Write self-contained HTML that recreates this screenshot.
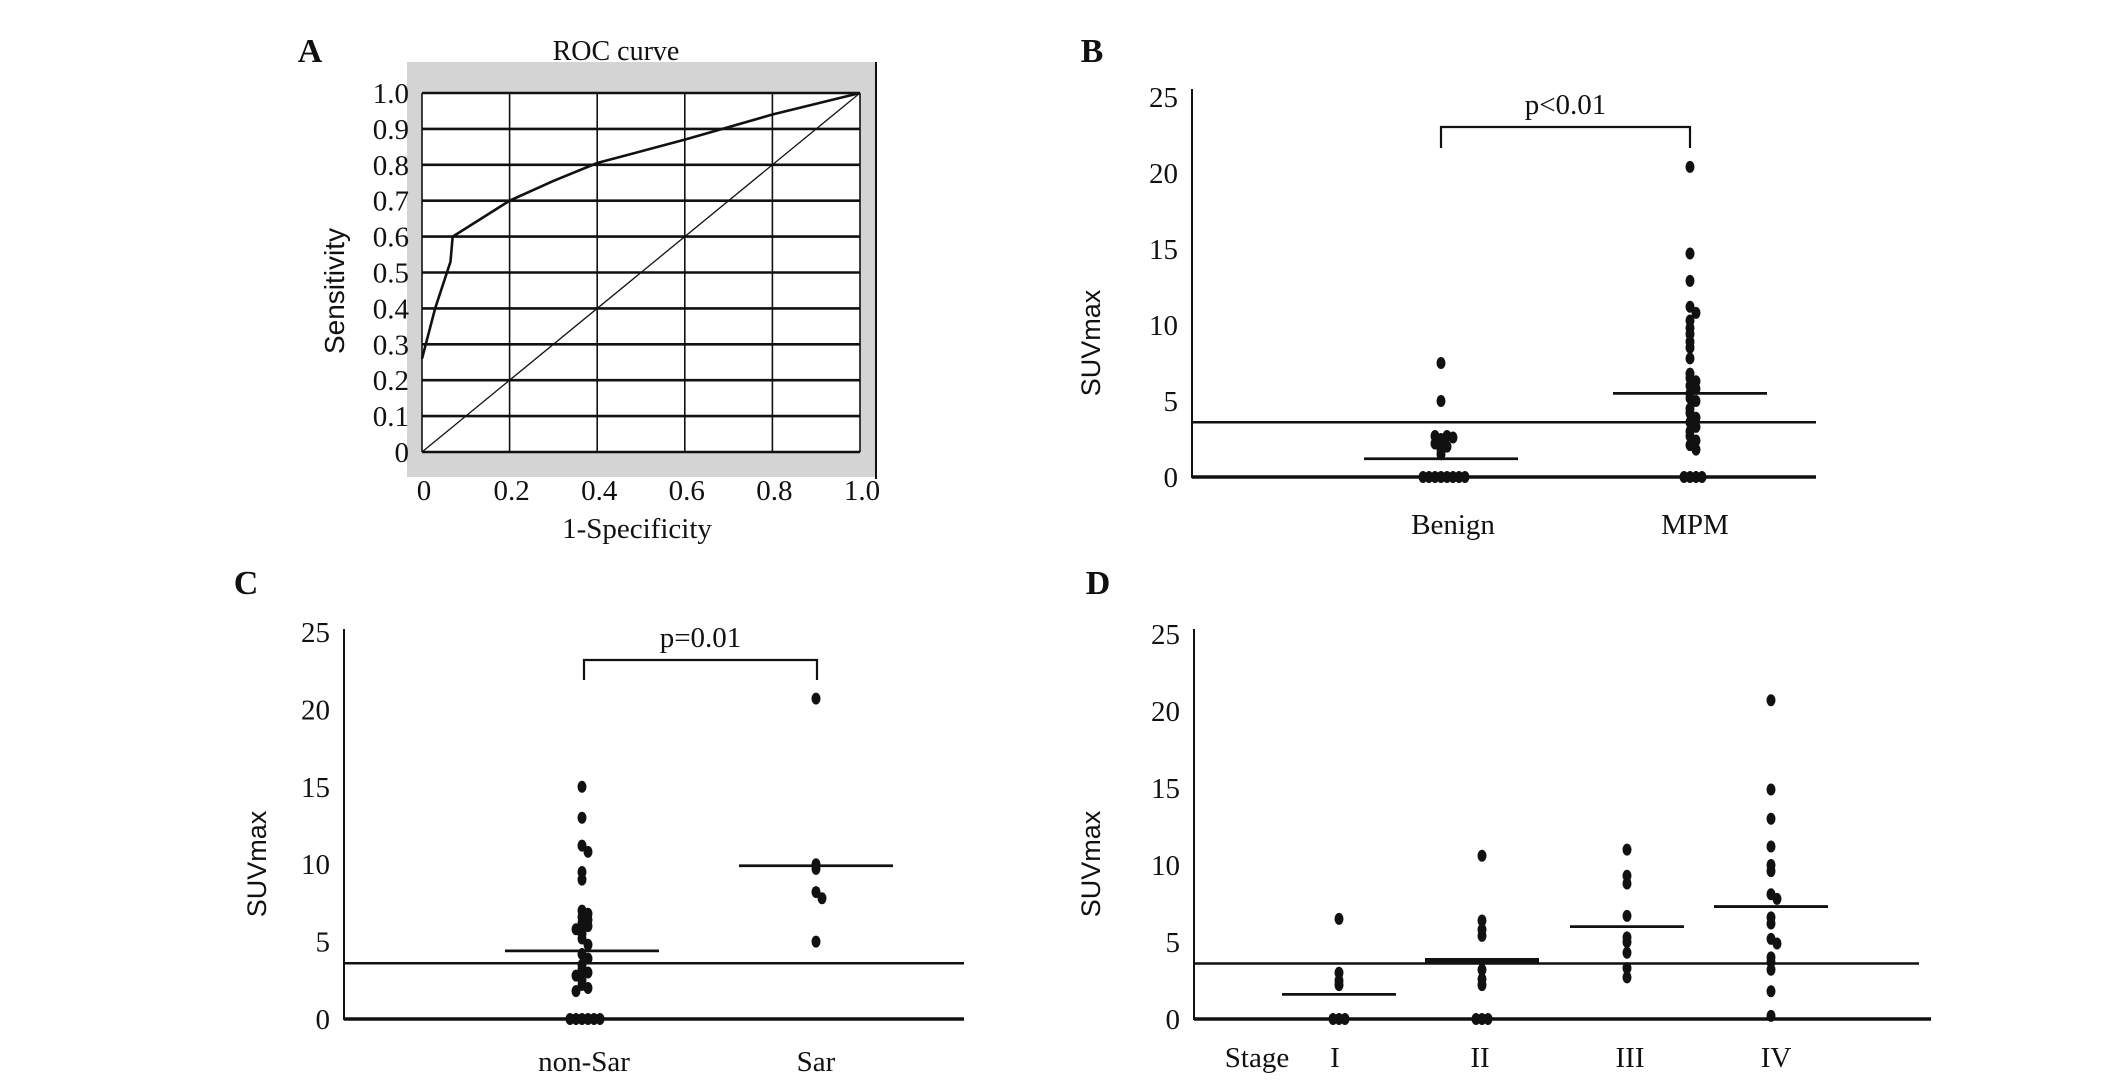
<!DOCTYPE html>
<html><head><meta charset="utf-8"><style>
html,body{margin:0;padding:0;background:#fff}
svg{display:block}
text{font-family:"Liberation Serif",serif;fill:#111}
.sans{font-family:"Liberation Sans",sans-serif}
</style></head><body>
<svg id="fig" width="2126" height="1084" viewBox="0 0 2126 1084" xmlns="http://www.w3.org/2000/svg">
<text x="310" y="62" font-size="34" font-weight="bold" text-anchor="middle">A</text>
<text x="1092" y="62" font-size="34" font-weight="bold" text-anchor="middle">B</text>
<text x="246" y="594" font-size="34" font-weight="bold" text-anchor="middle">C</text>
<text x="1098" y="594" font-size="34" font-weight="bold" text-anchor="middle">D</text>
<g id="pa"></g>
<g id="pb"></g>
<g id="pc"></g>
<g id="pd"></g>
</svg>
<script>
// ROC data
const rocFpr=[0,0.03,0.065,0.07,0.2,0.3,0.4,0.6,0.8,1];
const rocTpr=[0.26,0.4,0.53,0.6,0.7,0.755,0.805,0.87,0.94,1];
const rocTicks=["0","0.1","0.2","0.3","0.4","0.5","0.6","0.7","0.8","0.9","1.0"];
const rocXTicks=["0","0.2","0.4","0.6","0.8","1.0"];
// Panel B
const bCats=["Benign","MPM"];
const bBenign=[0,0,0,0,0,0,0,0,1.5,1.8,2.0,2.2,2.5,2.7,2.7,2.6,5,7.5];
const bMPM=[20.4,14.7,12.9,11.2,10.8,10.3,9.8,9.4,8.9,8.5,7.8,6.8,6.5,6.3,6,5.8,5.5,5.2,5,4.5,4.2,3.9,3.6,3.3,3,2.7,2.4,2.1,1.8,0,0,0,0];
const bMedians=[1.2,5.5];
// Panel C
const cCats=["non-Sar","Sar"];
const cNonSar=[15,13,11.2,10.8,9.5,9,7,6.8,6.6,6.4,6.2,6,5.8,5.5,5.2,4.8,4.2,3.9,3.5,3.2,3,2.8,2.5,2.2,2,1.8,0,0,0,0,0,0];
const cSar=[20.7,10,9.7,8.2,7.8,5];
const cMedians=[4.4,9.9];
// Panel D
const dCats=["I","II","III","IV"];
const dI=[6.5,3,2.5,2.2,0,0,0];
const dII=[10.6,6.4,5.8,5.4,3.2,2.6,2.2,0,0,0];
const dIII=[11,9.3,8.8,6.7,5.3,5,4.3,3.3,2.7];
const dIV=[20.7,14.9,13,11.2,10,9.6,8.1,7.8,6.6,6.2,5.2,4.9,4,3.7,3.2,1.8,0.2];
const dMedians=[1.6,3.8,6.0,7.3];
const suvTicks=[0,5,10,15,20,25];
const cutoff=3.6;

const NS="http://www.w3.org/2000/svg";
function mk(parent,tag,attrs,txt){const e=document.createElementNS(NS,tag);for(const k in attrs)e.setAttribute(k,attrs[k]);if(txt!==undefined)e.textContent=txt;parent.appendChild(e);return e;}

// ---- Panel A ----
(function(){
 const g=document.getElementById('pa');
 const x0=422,x1=860,y0=452,y1=93;
 const sx=v=>x0+v*(x1-x0), sy=v=>y0-v*(y0-y1);
 let e=mk(g,'rect',{x:407,y:62,width:468,height:415,fill:'#d4d4d4'});
 
 e=mk(g,'rect',{x:x0,y:y1,width:x1-x0,height:y0-y1,fill:'#fff'});
 
 e=mk(g,'line',{x1:876,y1:62,x2:876,y2:479,stroke:'#111','stroke-width':2});
 
 rocTicks.forEach((t,i)=>{const v=i/10;
  let l=mk(g,'line',{x1:x0,x2:x1,y1:sy(v),y2:sy(v),stroke:'#111','stroke-width':2.6});
  
  let tx=mk(g,'text',{x:409,y:sy(v)+10,'font-size':29,'text-anchor':'end'},t);
  
 });
 rocXTicks.forEach((t,i)=>{const v=i/5;
  let l=mk(g,'line',{x1:sx(v),x2:sx(v),y1:y1,y2:y0,stroke:'#111','stroke-width':1.6});
  
  let tx=mk(g,'text',{x:sx(v)+2,y:500,'font-size':29,'text-anchor':'middle'},t);
  
 });
 let d=mk(g,'line',{x1:sx(0),y1:sy(0),x2:sx(1),y2:sy(1),stroke:'#111','stroke-width':1.3});
 
 let p=mk(g,'polyline',{points:rocFpr.map((f,i)=>sx(f)+','+sy(rocTpr[i])).join(' '),fill:'none',stroke:'#111','stroke-width':2.6});
 
 let t=mk(g,'text',{x:616,y:60,'font-size':28,'text-anchor':'middle'},'ROC curve');
 
 t=mk(g,'text',{x:637,y:538,'font-size':29,'text-anchor':'middle'},'1-Specificity');
 
 t=mk(g,'text',{x:0,y:0,'font-size':28,'text-anchor':'middle','class':'sans',transform:'translate(344,291) rotate(-90)'},'Sensitivity');
 
})();

// ---- dot plot helper ----
function dotPanel(gid,cfg){
 const g=document.getElementById(gid);
 const sy=v=>cfg.y0-v*(cfg.y0-cfg.y25)/25;
 let e=mk(g,'line',{x1:cfg.ax,y1:cfg.top,x2:cfg.ax,y2:cfg.y0+1,stroke:'#111','stroke-width':2});
 
 e=mk(g,'line',{x1:cfg.ax,y1:cfg.y0,x2:cfg.axEnd,y2:cfg.y0,stroke:'#111','stroke-width':3.5});
 
 suvTicks.forEach(t=>{
  let tx=mk(g,'text',{x:cfg.ax-14,y:sy(t)+10,'font-size':29,'text-anchor':'end'},String(t));
  
 });
 e=mk(g,'line',{x1:cfg.ax,y1:sy(cutoff),x2:cfg.cutEnd,y2:sy(cutoff),stroke:'#111','stroke-width':2.5});
 
 cfg.cats.forEach((c,i)=>{
  const cx=cfg.cx[i];
  const vals=cfg.series[i];
  const seen={};
  vals.forEach(v=>{
   const k=Math.round(v*2);seen[k]=(seen[k]||0)+1;const n=seen[k]-1;
   const off=(n===0?0:(n%2?1:-1)*Math.ceil(n/2)*6);
   let dot=mk(g,'ellipse',{cx:cx+off,cy:sy(v),rx:4.5,ry:6,fill:'#111'});
   
  });
  let m=mk(g,'line',{x1:cx-cfg.mw,x2:cx+cfg.mw,y1:sy(cfg.med[i]),y2:sy(cfg.med[i]),stroke:'#111','stroke-width':cfg.mwid?cfg.mwid[i]:2.8});
  
  let tx=mk(g,'text',{x:cfg.lx[i],y:cfg.ly,'font-size':29,'text-anchor':'middle'},c);
  
 });
 let t=mk(g,'text',{x:0,y:0,'font-size':27,'text-anchor':'middle','class':'sans',transform:'translate('+cfg.tx+','+cfg.ty+') rotate(-90)'},'SUVmax');
 
 if(cfg.br){const b=cfg.br;
  let p=mk(g,'polyline',{points:`${b.x1},${b.yb} ${b.x1},${b.yt} ${b.x2},${b.yt} ${b.x2},${b.yb}`,fill:'none',stroke:'#111','stroke-width':2.2});
  
  let pt=mk(g,'text',{x:(b.x1+b.x2)/2,y:b.yt-13,'font-size':29,'text-anchor':'middle'},b.label);
  
 }
 if(cfg.extra){let s=mk(g,'text',{x:cfg.extra.x,y:cfg.ly,'font-size':29,'text-anchor':'middle'},cfg.extra.t);
  }
}
dotPanel('pb',{ax:1192,top:89,y0:477,y25:97,axEnd:1816,cutEnd:1816,cats:bCats,cx:[1441,1690],series:[bBenign,bMPM],med:bMedians,mw:77,lx:[1453,1695],ly:534,tx:1100,ty:343,
 br:{x1:1441,x2:1690,yt:127,yb:148,label:'p<0.01'}});
dotPanel('pc',{ax:344,top:629,y0:1019,y25:632,axEnd:964,cutEnd:964,cats:cCats,cx:[582,816],series:[cNonSar,cSar],med:cMedians,mw:77,lx:[584,816],ly:1071,tx:266,ty:864,
 br:{x1:584,x2:817,yt:660,yb:680,label:'p=0.01'}});
dotPanel('pd',{ax:1194,top:629,y0:1019,y25:634,axEnd:1931,cutEnd:1919,cats:dCats,cx:[1339,1482,1627,1771],series:[dI,dII,dIII,dIV],med:dMedians,mw:57,mwid:[2.8,5,2.8,2.8],lx:[1335,1480,1630,1776],ly:1067,tx:1100,ty:864,
 extra:{x:1257,t:'Stage'}});
</script>
</body></html>
